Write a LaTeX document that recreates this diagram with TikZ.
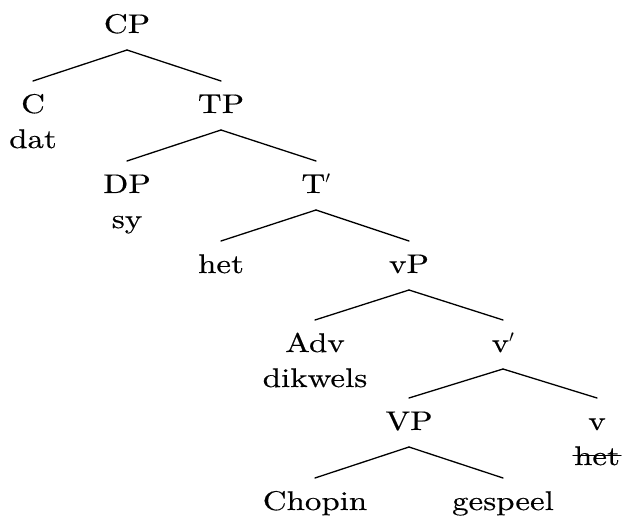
\documentclass[tikz,border=0pt]{standalone}
\usepackage{fontspec}
\setmainfont{lmroman10-regular.otf}[FakeStretch=1.22,FakeBold=0.4]
\begin{document}
\begin{tikzpicture}[x=1pt,y=-1pt,
  lbl/.style={anchor=base,inner sep=0pt,font=\fontsize{27}{30}\selectfont},
  edge/.style={line width=1.3pt,line cap=round}]
\useasboundingbox (0,0) rectangle (622,518);
\node[lbl] (CP) at (127,33) {CP};
\node[lbl] (C) at (33,113) {C};
\node[lbl] (dat) at (33,148) {dat};
\node[lbl] (TP) at (221,113) {TP};
\node[lbl] (DP) at (127,193) {DP};
\node[lbl] (sy) at (127,228) {sy};
\node[lbl] (Tb) at (316,193) {T$'$};
\node[lbl] (het) at (221,273) {het};
\node[lbl] (vP) at (409,273) {vP};
\node[lbl] (Adv) at (315,352) {Adv};
\node[lbl] (dikwels) at (315,387) {dikwels};
\node[lbl] (vb) at (503,352) {v$'$};
\node[lbl] (VP) at (409,430) {VP};
\node[lbl] (v) at (597,430) {v};
\node[lbl,text depth=0pt] (hetv) at (597,465) {het};
\node[lbl] (Chopin) at (315,510) {Chopin};
\node[lbl] (gespeel) at (503,510) {gespeel};
\draw[edge] ([xshift=-1pt]hetv.west) -- ([xshift=1pt]hetv.east);
\foreach \p/\c in {CP/C,CP/TP,TP/DP,TP/Tb,Tb/het,Tb/vP,vP/Adv,vP/vb,vb/VP,vb/v,VP/Chopin,VP/gespeel}
  \draw[edge] ([yshift=-17pt]\p.base) -- ([yshift=32pt]\c.base);
\end{tikzpicture}
\end{document}
